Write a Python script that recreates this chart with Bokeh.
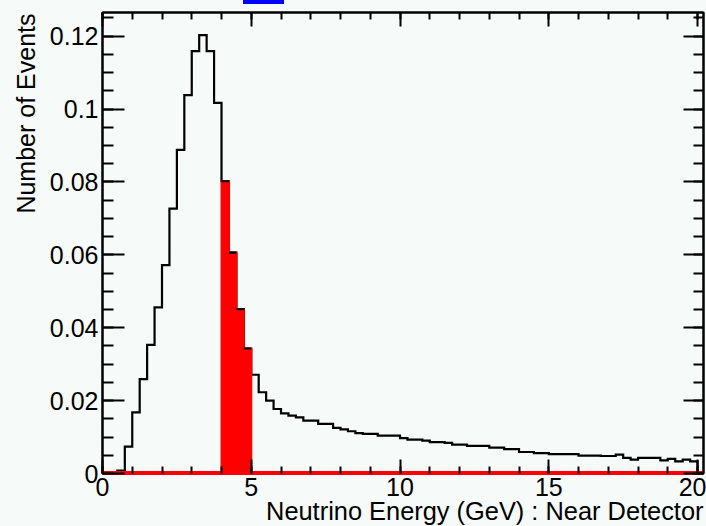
import numpy as np
from bokeh.plotting import figure
from bokeh.layouts import column
from bokeh.models import (Range1d, LinearAxis, FixedTicker, CustomJSTickFormatter,
                          Title, ColumnDataSource, Div)
from bokeh.embed import file_html
from bokeh.resources import INLINE

# ---- data -------------------------------------------------------------
bin_width = 0.25
bin_low = [i * 0.25 for i in range(80)]          # 0 ... 19.75 GeV
events = [
    0.0, 0.0, 0.0008, 0.0074, 0.0168, 0.0259, 0.0353, 0.0456, 0.0572, 0.0727,
    0.0888, 0.1038, 0.1159, 0.1203, 0.1159, 0.1017, 0.0802, 0.0606, 0.0451, 0.0343,
    0.0271, 0.0223, 0.0200, 0.0177, 0.0165, 0.0159, 0.0154, 0.0145, 0.0145, 0.0136,
    0.0136, 0.0125, 0.0121, 0.0116, 0.0111, 0.0109, 0.0109, 0.0104, 0.0104, 0.0104,
    0.0097, 0.0093, 0.0093, 0.0090, 0.0086, 0.0086, 0.0084, 0.0079, 0.0079, 0.0076,
    0.0076, 0.0076, 0.0071, 0.0071, 0.0067, 0.0067, 0.0059, 0.0059, 0.0056, 0.0056,
    0.0053, 0.0053, 0.0053, 0.0053, 0.0049, 0.0049, 0.0049, 0.0048, 0.0048, 0.0052,
    0.0043, 0.0038, 0.0043, 0.0043, 0.0043, 0.0036, 0.0040, 0.0033, 0.0038, 0.0033,
]
sel_low, sel_high = 4.0, 5.0                      # selected (red) energy window
x_ticks = [0, 5, 10, 15, 20]
x_tick_labels = ["0", "5", "10", "15", "20"]
y_ticks = [0, 0.02, 0.04, 0.06, 0.08, 0.1, 0.12]
y_tick_labels = ["0", "0.02", "0.04", "0.06", "0.08", "0.1", "0.12"]
x_title = "Neutrino Energy (GeV) : Near Detector"
y_title = "Number of Events"

# ---- style ------------------------------------------------------------
BG = "#f6faf8"
FONT = "Liberation Sans"
FS = "25px"
X_MAX = 20.2
Y_MAX = 0.1265
STRIP = 4   # height of the strip holding the cut-off blue title box

p = figure(width=706, height=526 - STRIP, output_backend="svg", toolbar_location=None,
           x_range=Range1d(0, X_MAX), y_range=Range1d(0, Y_MAX),
           min_border_left=102, min_border_right=3, min_border_top=12 - STRIP,
           min_border_bottom=53, background_fill_color=BG, border_fill_color=BG,
           outline_line_color="black", outline_line_width=2)
p.grid.visible = False

# histogram outline path (black)
edges = list(bin_low) + [bin_low[-1] + bin_width]
hx, hy = [edges[0]], [0.0]
for i, v in enumerate(events):
    hx += [edges[i], edges[i + 1]]
    hy += [v, v]
hx.append(edges[-1]); hy.append(0.0)
p.line(hx, hy, line_color="black", line_width=2.2, line_join="miter")

# red selected histogram (drawn on top, black bin tops kept visible)
sel = [(lo, v) for lo, v in zip(bin_low, events) if sel_low <= lo < sel_high]
src_sel = ColumnDataSource(dict(left=[s[0] for s in sel],
                                right=[s[0] + bin_width for s in sel],
                                top=[s[1] for s in sel]))
p.quad(left="left", right="right", bottom=0, top="top", source=src_sel,
       fill_color="#ff0000", line_color="#ff0000", line_width=2)
p.segment(x0="left", x1="right", y0="top", y1="top", source=src_sel,
          line_color="black", line_width=2.2)
p.step(x=bin_low + [X_MAX], y=[0.0] * (len(bin_low) + 1), mode="after",
       line_color="#ff0000", line_width=5)

# ---- axes -------------------------------------------------------------
xt = FixedTicker(ticks=x_ticks, minor_ticks=list(range(0, 21)))
yt = FixedTicker(ticks=y_ticks, minor_ticks=[round(0.005 * k, 3) for k in range(26)])
yfmt = CustomJSTickFormatter(code="return tick.toFixed(2).replace(/0+$/, '').replace(/\\.$/, '');")
blank = CustomJSTickFormatter(code="return '';")

for ax in p.xaxis:
    ax.ticker = xt
    ax.major_tick_in = 14; ax.major_tick_out = 0
    ax.minor_tick_in = 7; ax.minor_tick_out = 0
    ax.axis_line_color = "#ff0000"; ax.axis_line_width = 3
    ax.major_tick_line_width = 2; ax.minor_tick_line_width = 2
    ax.major_label_text_font = FONT; ax.major_label_text_font_size = FS
    ax.major_label_text_color = "black"
    ax.major_label_standoff = 4

for ax in p.yaxis:
    ax.ticker = yt
    ax.formatter = yfmt
    ax.major_tick_in = 22; ax.major_tick_out = 0
    ax.minor_tick_in = 11; ax.minor_tick_out = 0
    ax.axis_line_width = 2
    ax.major_tick_line_width = 2; ax.minor_tick_line_width = 2
    ax.major_label_text_font = FONT; ax.major_label_text_font_size = FS
    ax.major_label_text_color = "black"
    ax.major_label_standoff = 4

top_ax = LinearAxis(ticker=xt, formatter=blank, major_label_text_font_size="1px",
                    major_label_standoff=0,
                    major_tick_in=14, major_tick_out=0, minor_tick_in=7, minor_tick_out=0,
                    axis_line_width=2, major_tick_line_width=2, minor_tick_line_width=2)
right_ax = LinearAxis(ticker=yt, formatter=blank, major_label_text_font_size="1px",
                      major_label_standoff=0,
                      major_tick_in=20, major_tick_out=0, minor_tick_in=10, minor_tick_out=0,
                      axis_line_width=2, major_tick_line_width=2, minor_tick_line_width=2)
p.add_layout(top_ax, "above")
p.add_layout(right_ax, "right")

# axis titles (ROOT style, aligned to the axis ends)
p.add_layout(Title(text=x_title, align="right", vertical_align="bottom",
                   standoff=-7, offset=0,
                   text_font=FONT, text_font_size="25.4px", text_font_style="normal",
                   text_color="black"), "below")
p.add_layout(Title(text=y_title, align="right", vertical_align="top",
                   standoff=10, offset=1,
                   text_font=FONT, text_font_size=FS, text_font_style="normal",
                   text_color="black"), "left")

# cut-off blue title box peeking in at the very top of the canvas
blue_box = Div(text="", width=41, height=STRIP, margin=(0, 0, 0, 243),
               styles={"background-color": "#0000ff"})
page = column(blue_box, p, spacing=0, styles={"background-color": BG})

open("out.html", "w").write(file_html(page, INLINE))
